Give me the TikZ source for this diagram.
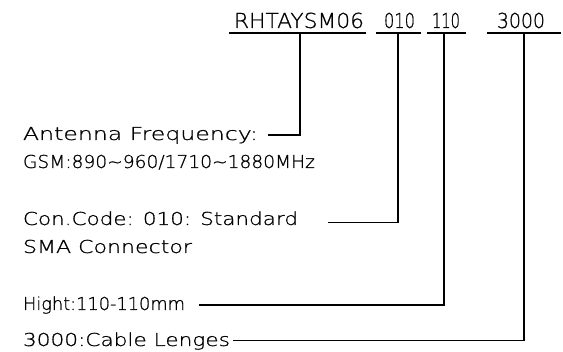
\documentclass[tikz,border=0pt]{standalone}
\usepackage{fontspec}
\usepackage{graphicx}
\setmainfont{DejaVu Sans ExtraLight}[RawFeature={embolden=0.8}]
\newcommand{\fitw}[2]{\setbox0\hbox{#2}\pgfmathsetmacro\fitr{#1/\the\wd0}\scalebox{\fitr}[1]{\box0}}
\begin{document}
\begin{tikzpicture}[x=1pt,y=-1pt,
  lbl/.style={anchor=base west,inner sep=0pt,outer sep=0pt,font=\fontsize{17.8}{20}\selectfont},
  ttl/.style={anchor=base west,inner sep=0pt,outer sep=0pt,font=\fontsize{20.6}{24}\selectfont},
  ln/.style={line width=1.1pt,line cap=rect}]
\useasboundingbox[fill=white] (0,0) rectangle (563,352);
% title parts
\node[ttl] (t1) at (234,28) {\fitw{130}{RHTAYSM06}};
\node[ttl] (t2) at (384,28) {\fitw{31}{010}};
\node[ttl] (t3) at (432,28) {\fitw{28}{110}};
\node[ttl] (t4) at (497,28) {\fitw{48}{3000}};
\coordinate (u1a) at (230,33); \coordinate (u1b) at (365,33);
\coordinate (u2a) at (377,33); \coordinate (u2b) at (420,33);
\coordinate (u3a) at (428,33); \coordinate (u3b) at (465,33);
\coordinate (u4a) at (488,33); \coordinate (u4b) at (560,33);
\draw[ln] (u1a) -- (u1b);
\draw[ln] (u2a) -- (u2b);
\draw[ln] (u3a) -- (u3b);
\draw[ln] (u4a) -- (u4b);
% labels
\node[lbl] (a1) at (23,140) {\fitw{235}{Antenna Frequency:}};
\node[lbl] (a2) at (23,168) {\fitw{292}{GSM:890\textasciitilde 960/1710\textasciitilde 1880MHz}};
\node[lbl] (c1) at (23,225) {\fitw{275}{Con.Code: 010: Standard}};
\node[lbl] (c2) at (23,253) {\fitw{169}{SMA Connector}};
\node[lbl] (h1) at (23,310) {\fitw{162}{Hight:110-110mm}};
\node[lbl] (l1) at (23,346) {\fitw{207}{3000:Cable Lenges}};
% connectors
\coordinate (d1) at (300,33); \coordinate (e1) at (268,135);
\coordinate (d2) at (398,33); \coordinate (e2) at (328,222.7);
\coordinate (d3) at (444,33); \coordinate (e3) at (199,305);
\coordinate (d4) at (524,33); \coordinate (e4) at (233,340.7);
\draw[ln,line cap=butt] (d1) |- (e1);
\draw[ln,line cap=butt] (d2) |- (e2);
\draw[ln,line cap=butt] (d3) |- (e3);
\draw[ln,line cap=butt] (d4) |- (e4);
\end{tikzpicture}
\end{document}
